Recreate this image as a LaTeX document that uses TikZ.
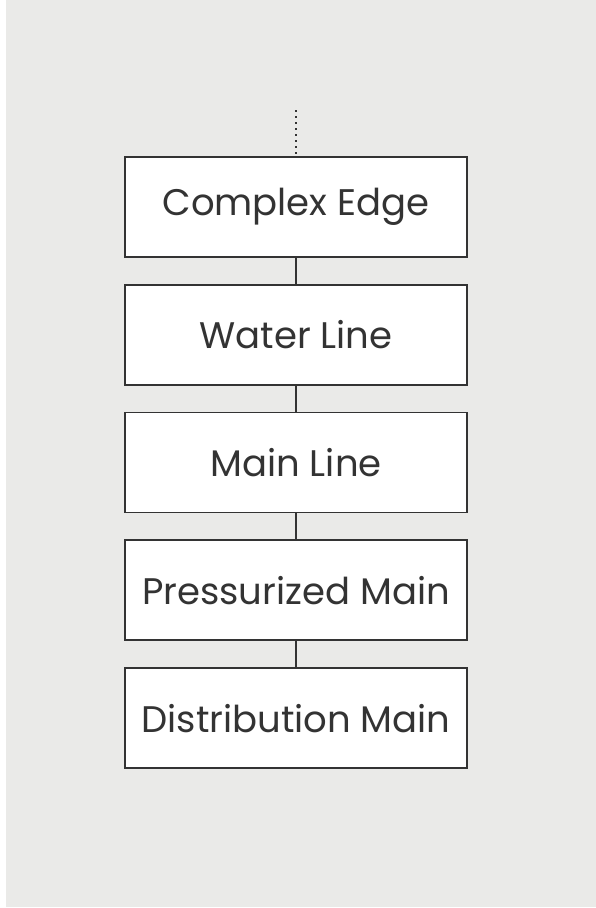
\documentclass[tikz,border=0pt]{standalone}
\usepackage{fontspec}
\setmainfont{Poppins}
\usepackage{tikz}
\usetikzlibrary{positioning}

\definecolor{bg}{HTML}{EAEAE8}
\definecolor{ink}{HTML}{333333}

\begin{document}
\begin{tikzpicture}[x=1pt,y=1pt,
	part/.style={draw=ink,line width=1.8pt,fill=white,minimum width=342pt,minimum height=100pt,inner sep=0pt,font=\fontsize{37}{44}\selectfont,text=ink},
	link/.style={draw=ink,line width=1.4pt}]
	\useasboundingbox (0,0) rectangle (596,908);
	\fill[white] (0,0) rectangle (596,908);
	\fill[bg] (6,1) rectangle (596,908);
	% chain of boxes
	\node[part] (edge) at (296,701) {Complex Edge};
	\node[part,below=26pt of edge] (water) {Water Line};
	\node[part,below=26pt of water] (main) {Main Line};
	\node[part,below=26pt of main] (press) {Pressurized Main};
	\node[part,below=26pt of press] (distr) {Distribution Main};
	\coordinate[above=46pt of edge.north] (top);
	\draw[link,line width=1.8pt,dash pattern=on 1.8pt off 4.2pt] (top) -- (edge.north);
	\draw[link] (edge) -- (water) (water) -- (main) (main) -- (press) (press) -- (distr);
\end{tikzpicture}
\end{document}
